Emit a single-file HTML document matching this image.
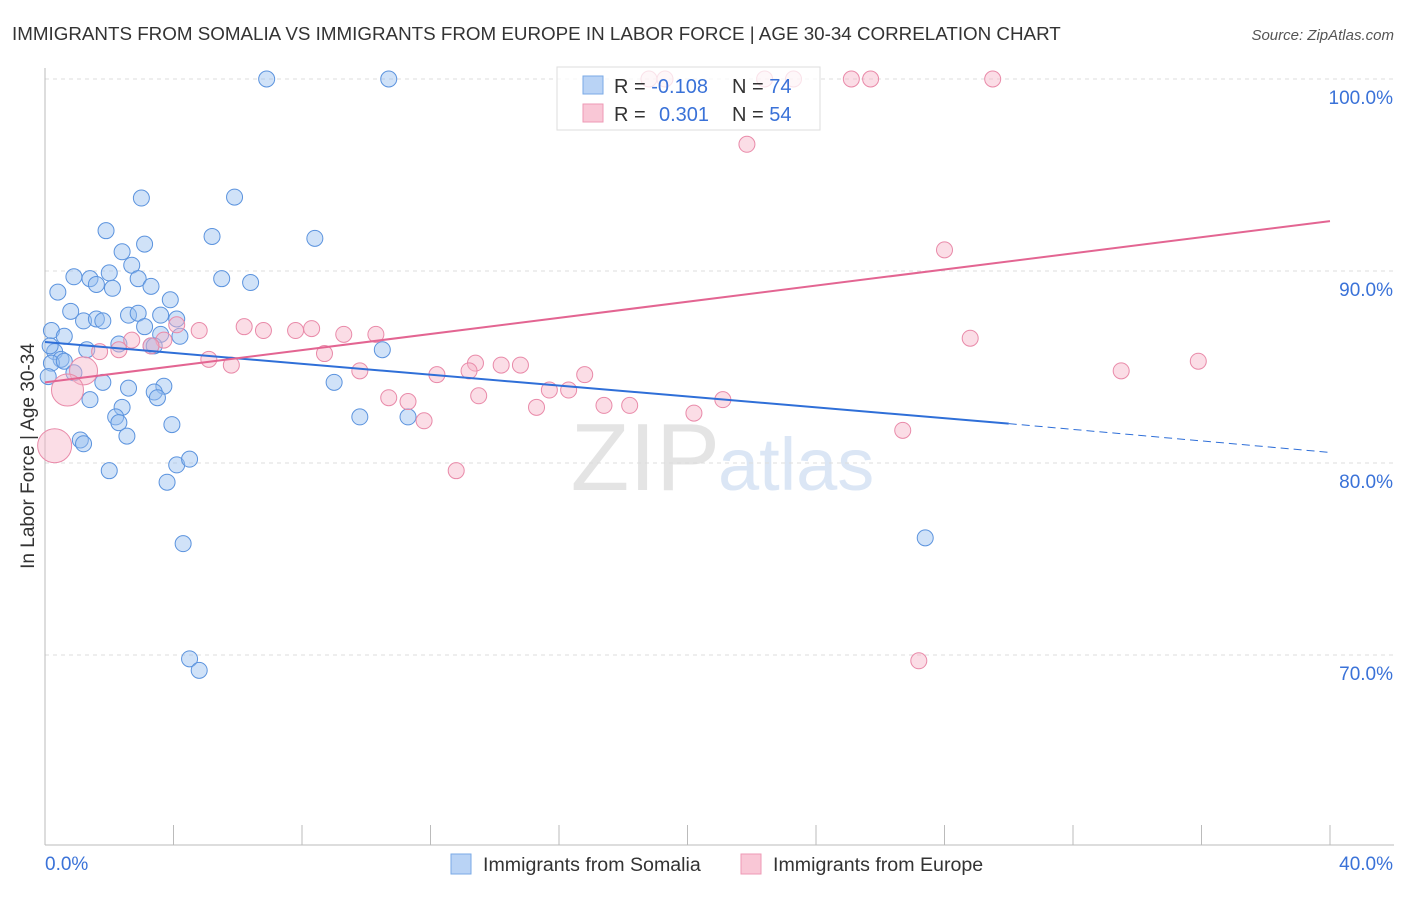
<!DOCTYPE html>
<html><head><meta charset="utf-8">
<style>
body{margin:0;background:#fff;font-family:"Liberation Sans",sans-serif;}
svg text{font-family:"Liberation Sans",sans-serif;}
</style></head>
<body>
<svg id="chart" width="1406" height="892">
<text x="12" y="40" font-size="18.8" fill="#333">IMMIGRANTS FROM SOMALIA VS IMMIGRANTS FROM EUROPE IN LABOR FORCE | AGE 30-34 CORRELATION CHART</text>
<text x="1394" y="40" font-size="15" fill="#555" font-style="italic" text-anchor="end">Source: ZipAtlas.com</text>
<text x="720" y="490" font-size="96" fill="#e4e4e4" text-anchor="end" font-family="Liberation Serif">ZIP</text>
<text x="718" y="490" font-size="74" fill="#dbe6f5">atlas</text>
<g id="grid"></g>
<g id="pts"></g>
<g id="trend"></g>
<text transform="translate(34,456) rotate(-90)" font-size="19" fill="#333" text-anchor="middle">In Labor Force | Age 30-34</text>
<g>
<rect x="557" y="67" width="263" height="63" fill="#fff" fill-opacity="0.75" stroke="#ddd"/>
<rect x="583" y="76" width="20" height="18" fill="#b9d3f5" stroke="#7aa9e6"/>
<rect x="583" y="104" width="20" height="18" fill="#f9c7d6" stroke="#ee9ab5"/>
<text x="614" y="93" font-size="20" fill="#333">R = <tspan fill="#3a72d8">-0.108</tspan><tspan x="732">N = </tspan><tspan fill="#3a72d8">74</tspan></text>
<text x="614" y="121" font-size="20" fill="#333">R = <tspan x="659" fill="#3a72d8">0.301</tspan><tspan x="732">N = </tspan><tspan fill="#3a72d8">54</tspan></text>
</g>
<g>
<rect x="451" y="854" width="20" height="20" fill="#b9d3f5" stroke="#7aa9e6"/>
<text x="483" y="871" font-size="19.6" fill="#333">Immigrants from Somalia</text>
<rect x="741" y="854" width="20" height="20" fill="#f9c7d6" stroke="#ee9ab5"/>
<text x="773" y="871" font-size="19.6" fill="#333">Immigrants from Europe</text>
</g>
</svg>
<script>
const xTicks=[0,40];
const yTicks=[70,80,90,100];
const blueX=[6.9,10.7,3.0,5.9,1.9,3.1,5.2,8.4,2.4,2.7,0.9,1.4,2.0,2.9,5.5,6.4,0.4,1.6,2.1,3.3,3.9,0.8,1.2,1.6,1.8,2.6,2.9,3.6,4.1,0.2,0.6,3.1,3.6,4.2,2.3,3.3,3.4,1.3,0.3,0.5,0.2,0.6,10.5,0.9,1.8,3.7,9.0,2.6,3.4,3.5,1.4,2.4,2.2,2.3,9.8,11.3,3.95,2.55,1.1,1.2,2.0,4.1,4.5,3.8,4.3,27.4,4.5,4.8,0.1,0.16];
const blueY=[100,100,93.8,93.85,92.1,91.4,91.8,91.7,91.0,90.3,89.7,89.6,89.9,89.6,89.6,89.4,88.9,89.3,89.1,89.2,88.5,87.9,87.4,87.5,87.4,87.7,87.8,87.7,87.5,86.9,86.6,87.1,86.7,86.6,86.2,86.1,86.1,85.9,85.8,85.4,85.2,85.3,85.9,84.7,84.2,84.0,84.2,83.9,83.7,83.4,83.3,82.9,82.4,82.1,82.4,82.4,82.0,81.4,81.2,81.0,79.6,79.9,80.2,79.0,75.8,76.1,69.8,69.2,84.5,86.1];
const blueR=[8,8,8,8,8,8,8,8,8,8,8,8,8,8,8,8,8,8,8,8,8,8,8,8,8,8,8,8,8,8,8,8,8,8,8,8,8,8,8,8,8,8,8,8,8,8,8,8,8,8,8,8,8,8,8,8,8,8,8,8,8,8,8,8,8,8,8,8,8,8];
const pinkX=[18.8,19.3,22.4,23.3,25.1,25.7,29.5,21.85,28.0,28.8,33.5,35.9,6.2,6.8,7.8,8.3,4.8,4.1,3.7,2.7,2.3,1.7,5.1,5.8,8.7,9.3,10.3,9.8,13.4,14.2,14.8,12.2,13.2,15.7,16.3,16.8,10.7,11.3,11.8,13.5,15.3,17.4,18.2,20.2,21.1,26.7,12.8,27.2,1.2,0.7,0.3,3.3];
const pinkY=[100,100,100,100,100,100,100,96.6,91.1,86.5,84.8,85.3,87.1,86.9,86.9,87.0,86.9,87.2,86.4,86.4,85.9,85.8,85.4,85.1,85.7,86.7,86.7,84.8,85.2,85.1,85.1,84.6,84.8,83.8,83.8,84.6,83.4,83.2,82.2,83.5,82.9,83.0,83.0,82.6,83.3,81.7,79.6,69.7,84.8,83.8,80.9,86.1];
const pinkR=[8,8,8,8,8,8,8,8,8,8,8,8,8,8,8,8,8,8,8,8,8,8,8,8,8,8,8,8,8,8,8,8,8,8,8,8,8,8,8,8,8,8,8,8,8,8,8,8,14,16,17,8];
const blueTrend=[86.3,82.05,80.55];
const pinkTrend=[84.2,92.6];
const xs=v=>45+v/40*1285, ys=v=>79+(100-v)*19.2;
const NS="http://www.w3.org/2000/svg";
function mk(p,t,a){const e=document.createElementNS(NS,t);for(const k in a)e.setAttribute(k,a[k]);p.appendChild(e);return e;}
const grid=document.getElementById('grid');
yTicks.forEach(t=>{
 const l=mk(grid,'line',{x1:45,x2:1394,y1:ys(t),y2:ys(t),stroke:'#ddd','stroke-dasharray':'4,4'});
 
 
 const tx=mk(grid,'text',{x:1393,y:ys(t)+25,'font-size':19,fill:'#3a72d8','text-anchor':'end'});tx.textContent=t.toFixed(1)+'%';
 
 
});
mk(grid,'line',{x1:45,x2:45,y1:68,y2:845,stroke:'#bbb'});
mk(grid,'line',{x1:45,x2:1394,y1:845,y2:845,stroke:'#bbb'});
for(let i=1;i<=10;i++){mk(grid,'line',{x1:xs(i*4),x2:xs(i*4),y1:825,y2:845,stroke:'#bbb'});}
xTicks.forEach((t,i)=>{const tx=mk(grid,'text',{x:i?1393:45,y:870,'font-size':19,fill:'#3a72d8','text-anchor':i?'end':'start'});tx.textContent=t.toFixed(1)+'%';
 
 });
const pts=document.getElementById('pts');
blueX.forEach((v,i)=>{const c=mk(pts,'circle',{cx:xs(v),cy:ys(blueY[i]),r:blueR[i],fill:'rgba(150,190,240,0.45)',stroke:'#5b93de','stroke-width':1});
 
 });
pinkX.forEach((v,i)=>{const c=mk(pts,'circle',{cx:xs(v),cy:ys(pinkY[i]),r:pinkR[i],fill:'rgba(246,180,200,0.45)',stroke:'#e98aa9','stroke-width':1});
 
 });
const tr=document.getElementById('trend');
let l=mk(tr,'line',{x1:xs(0),y1:ys(blueTrend[0]),x2:xs(30),y2:ys(blueTrend[1]),stroke:'#2f6fd8','stroke-width':2});


l=mk(tr,'line',{x1:xs(30),y1:ys(blueTrend[1]),x2:xs(40),y2:ys(blueTrend[2]),stroke:'#2f6fd8','stroke-width':1,'stroke-dasharray':'8,5'});


l=mk(tr,'line',{x1:xs(0),y1:ys(pinkTrend[0]),x2:xs(40),y2:ys(pinkTrend[1]),stroke:'#e36592','stroke-width':2});


</script>
</body></html>
